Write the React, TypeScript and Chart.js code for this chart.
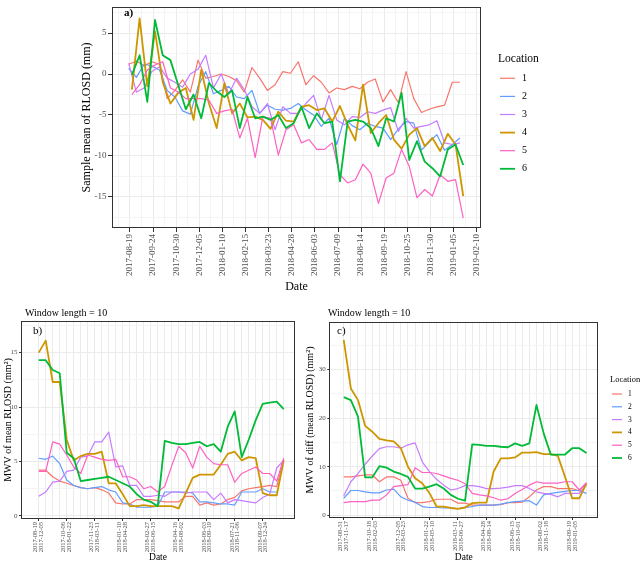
import React, { useEffect, useRef } from 'react';
import { Chart, registerables } from 'chart.js';

Chart.register(...registerables);

const FONT = "'Liberation Serif', 'Times New Roman', serif";
const TICK_COLOR = '#4D4D4D';
const GRID_MAJOR = '#EBEBEB';
const GRID_MINOR = '#F4F4F4';

const LOCATIONS = ['1', '2', '3', '4', '5', '6'];
const COLORS = ['#F8766D', '#619CFF', '#C77CFF', '#CD9600', '#FF61C3', '#00BA38'];
const WIDTHS = [1.2, 1.2, 1.2, 1.8, 1.2, 1.8];

// ---------- panel a : sample mean of RLOSD ----------
// sampling dates of locations 1-3
const aDates123 = ['2017-08-17','2017-08-29','2017-09-10','2017-09-22','2017-10-04','2017-10-16','2017-10-28','2017-11-09','2017-11-21','2017-12-03','2017-12-15','2017-12-27','2018-01-08','2018-01-20','2018-02-01','2018-02-13','2018-02-25','2018-03-09','2018-03-21','2018-04-02','2018-04-14','2018-04-26','2018-05-08','2018-05-20','2018-06-01','2018-06-13','2018-06-25','2018-07-07','2018-07-19','2018-07-31','2018-08-12','2018-08-24','2018-09-05','2018-09-17','2018-09-29','2018-10-11','2018-10-23','2018-11-04','2018-11-16','2018-11-28','2018-12-10','2018-12-22','2019-01-03','2019-01-15'];
// sampling dates of locations 4-6
const aDates456 = ['2017-08-22','2017-09-03','2017-09-15','2017-09-27','2017-10-09','2017-10-21','2017-11-02','2017-11-14','2017-11-26','2017-12-08','2017-12-20','2018-01-01','2018-01-13','2018-01-25','2018-02-06','2018-02-18','2018-03-02','2018-03-14','2018-03-26','2018-04-07','2018-04-19','2018-05-01','2018-05-13','2018-05-25','2018-06-06','2018-06-18','2018-06-30','2018-07-12','2018-07-24','2018-08-05','2018-08-17','2018-08-29','2018-09-10','2018-09-22','2018-10-04','2018-10-16','2018-10-28','2018-11-09','2018-11-21','2018-12-03','2018-12-15','2018-12-27','2019-01-08','2019-01-20'];

const aLoc1 = [1.2, 1.6, 1.0, 1.5, 1.2, -3.0, -2.0, -0.7, -2.2, 1.7, -0.5, -0.3, 0.0, -0.3, -0.8, -2.2, 0.8, -0.5, -2.0, -1.3, 0.3, 0.1, 1.5, -1.3, -0.2, -1.0, -2.3, -1.7, -1.9, -1.5, -1.8, -1.0, -0.6, -3.4, -1.9, -3.5, 0.3, -3.0, -4.7, -4.3, -4.0, -3.8, -1.0, -1.0];
const aLoc2 = [0.7, -0.4, 1.2, 1.0, 0.5, -2.0, -2.8, -4.5, -4.9, -1.5, 0.3, -2.4, -2.0, -1.5, -2.8, -3.0, -2.0, -4.8, -3.8, -4.3, -4.4, -4.2, -3.6, -4.4, -5.0, -6.4, -5.4, -8.6, -5.4, -6.3, -6.8, -6.0, -6.4, -6.6, -8.0, -6.7, -5.8, -6.0, -9.3, -8.3, -7.4, -9.3, -8.6, -7.8];
const aLoc3 = [1.3, -2.2, -1.7, 0.3, 0.9, -0.5, -1.0, -1.6, 0.0, 0.6, 2.3, -1.7, 0.0, -2.4, -0.5, -1.9, -4.0, -4.8, -3.6, -6.8, -4.0, -4.8, -4.8, -3.6, -2.6, -5.6, -2.6, -5.6, -6.2, -5.2, -5.3, -4.6, -4.8, -4.4, -4.1, -7.0, -5.4, -6.6, -6.4, -6.2, -5.7, -8.4, -8.6, -8.4];
const aLoc4 = [-1.9, 6.8, -1.5, 5.2, -1.0, -3.6, -2.3, -1.7, -5.6, 0.5, -3.6, -6.6, -1.1, -4.8, -3.6, -5.3, -5.2, -5.6, -6.7, -4.6, -5.7, -5.8, -4.0, -3.8, -4.4, -4.2, -5.8, -3.9, -6.2, -8.1, -1.3, -7.2, -6.0, -5.0, -8.0, -9.1, -7.4, -6.6, -8.8, -7.8, -9.4, -7.3, -8.6, -14.9];
const aLoc5 = [-2.5, -1.3, 0.5, 1.1, 1.5, -1.7, -2.2, -3.0, -3.0, -3.0, -3.2, -4.8, -4.5, -4.3, -7.8, -5.4, -10.2, -5.2, -5.4, -9.9, -6.8, -6.2, -8.4, -8.0, -9.2, -9.2, -8.4, -12.3, -13.3, -12.9, -11.0, -12.1, -15.8, -12.7, -12.1, -9.2, -11.3, -15.1, -14.1, -14.9, -12.3, -13.1, -12.9, -17.6];
const aLoc6 = [-0.1, 2.3, -3.4, 6.6, 2.3, 1.7, -1.3, -4.3, -2.5, -5.4, -1.1, -2.1, -2.8, -2.0, -6.6, -2.8, -5.4, -5.2, -5.6, -5.0, -6.6, -6.0, -4.0, -6.6, -4.8, -6.0, -5.8, -13.1, -5.8, -5.6, -5.8, -6.6, -8.8, -5.4, -5.8, -2.3, -10.5, -8.2, -10.7, -11.5, -12.5, -9.2, -8.6, -11.1];
const aTickDates = ['2017-08-19','2017-09-24','2017-10-30','2017-12-05','2018-01-10','2018-02-15','2018-03-23','2018-04-28','2018-06-03','2018-07-09','2018-08-14','2018-09-19','2018-10-25','2018-11-30','2019-01-05','2019-02-10'];

// ---------- panel b : MWV of mean RLOSD ----------
const bLoc1 = [4.2, 4.2, 3.6, 3.2, 3.0, 2.8, 2.6, 2.5, 2.6, 2.4, 2.1, 1.2, 1.1, 1.1, 1.5, 1.5, 1.5, 1.4, 1.3, 1.3, 1.3, 1.8, 1.8, 1.0, 1.2, 1.0, 1.1, 1.5, 1.7, 2.3, 2.5, 2.6, 2.7, 2.8, 2.7, 5.2];
const bLoc2 = [5.3, 5.2, 5.5, 4.8, 3.3, 2.8, 2.6, 2.5, 2.6, 2.7, 2.4, 2.2, 1.2, 1.1, 0.8, 0.8, 0.8, 0.9, 2.2, 2.2, 2.2, 2.2, 2.1, 1.3, 1.3, 1.2, 1.1, 1.1, 1.0, 2.2, 2.2, 2.2, 2.5, 2.2, 2.2, null];
const bLoc3 = [1.8, 2.2, 3.1, 3.2, 4.1, 4.2, 5.4, 5.5, 6.8, 6.8, 7.7, 4.5, 4.6, 2.8, 2.8, 1.8, 1.8, 1.9, 1.8, 2.2, 2.2, 2.1, 2.2, 2.2, 2.2, 1.5, 2.1, 1.2, 1.5, 1.4, 1.3, 1.2, 1.7, 2.0, 4.4, 5.1];
const bLoc4 = [15.0, 16.1, 12.3, 12.3, 7.0, 5.1, 5.5, 5.7, 5.7, 5.9, 3.0, 3.0, 2.0, 0.9, 0.9, 1.0, 0.9, 0.9, 0.9, 0.9, 0.7, 2.1, 3.5, 3.8, 3.8, 3.8, 4.7, 5.7, 5.9, 5.1, 5.4, 5.3, 2.1, 1.9, 1.9, 5.1];
const bLoc5 = [4.1, 4.1, 6.8, 6.6, 5.6, 4.5, 3.9, 5.6, 5.4, 5.2, 5.1, 5.2, 3.6, 3.6, 3.3, 2.5, 2.7, 2.2, 2.7, 4.6, 6.4, 5.8, 4.4, 6.4, 5.4, 4.8, 4.7, 4.7, 3.1, 3.9, 4.2, 4.5, 3.9, 3.9, 3.2, 5.3];
const bLoc6 = [14.3, 14.3, 13.4, 13.1, 5.8, 5.3, 3.2, 3.3, 3.4, 3.5, 3.6, 3.3, 3.0, 2.7, 2.0, 1.5, 1.3, 0.9, 6.9, 6.7, 6.6, 6.6, 6.7, 6.8, 6.4, 6.6, 5.9, 8.2, 9.6, 5.4, 7.0, 8.8, 10.3, 10.4, 10.5, 9.8];
const bTickStart = ['2017-08-19','2017-10-06','2017-11-23','2018-01-10','2018-02-27','2018-04-16','2018-06-03','2018-07-21','2018-09-07'];
const bTickEnd = ['2017-12-05','2018-01-22','2018-03-11','2018-04-28','2018-06-15','2018-08-02','2018-09-19','2018-11-06','2018-12-24'];

// ---------- panel c : MWV of diff(mean RLOSD) ----------
const cLoc1 = [7.9, 7.9, 8.1, 8.3, 8.3, 6.9, 7.9, 7.9, 7.2, 3.5, 2.6, 2.6, 2.8, 3.3, 3.3, 3.3, 2.5, 2.5, 2.1, 2.1, 2.1, 2.1, 2.2, 2.6, 2.6, 2.7, 3.8, 5.2, 5.9, 5.9, 5.5, 5.5, 5.5, 5.0, 6.6];
const cLoc2 = [3.5, 5.1, 5.1, 4.8, 4.6, 4.6, 5.2, 5.4, 3.8, 3.1, 2.7, 1.8, 1.6, 1.6, 1.5, 1.5, 1.4, 1.6, 1.8, 2.1, 2.1, 2.1, 2.3, 2.6, 2.8, 2.9, 3.0, 2.1, 4.2, 4.5, 4.7, 4.9, 5.1, 5.1, 4.5];
const cLoc3 = [4.0, 6.9, 8.6, 10.5, 12.2, 13.7, 14.1, 14.1, 13.8, 14.5, 14.9, 11.0, 9.0, 7.4, 6.2, 5.2, 5.5, 6.1, 6.1, 5.9, 5.5, 5.5, 5.6, 5.8, 6.1, 6.1, 5.5, 4.8, 4.5, 4.3, 3.8, 4.5, 4.5, 4.5, 6.2];
const cLoc4 = [36.1, 26.1, 23.7, 18.4, 17.2, 15.7, 15.4, 15.2, 13.8, 10.0, 7.6, 6.6, 4.6, 1.8, 1.8, 1.5, 1.3, 1.6, 2.5, 2.6, 2.6, 9.0, 11.7, 11.7, 11.9, 12.9, 12.9, 13.0, 12.6, 12.6, 12.2, 7.9, 3.5, 3.5, 6.6];
const cLoc5 = [2.6, 2.8, 2.8, 2.8, 3.1, 3.1, 4.2, 5.9, 6.1, 6.3, 9.8, 8.8, 8.8, 8.6, 8.1, 7.6, 7.2, 6.5, 4.5, 4.2, 4.0, 3.6, 3.1, 3.4, 4.5, 5.3, 6.2, 6.9, 6.6, 6.6, 6.6, 6.9, 6.9, 5.2, 6.7];
const cLoc6 = [24.3, 23.7, 20.3, 7.8, 7.8, 10.1, 9.8, 9.0, 8.5, 7.9, 5.5, 5.5, 5.9, 6.4, 5.5, 4.2, 3.4, 3.0, 14.6, 14.5, 14.3, 14.3, 14.1, 14.0, 14.8, 14.3, 14.8, 22.7, 16.9, 12.5, 12.5, 12.5, 13.8, 13.8, 12.8];
const cTickStart = ['2017-08-31','2017-10-18','2017-12-05','2018-01-22','2018-03-11','2018-04-28','2018-06-15','2018-08-02','2018-09-19'];
const cTickEnd = ['2017-11-17','2018-02-03','2018-03-23','2018-05-10','2018-06-27','2018-08-14','2018-10-01','2018-11-18','2019-01-05'];

// ---------- helpers ----------
const BASE = Date.UTC(2017, 7, 19);
const dayOf = (s: string) => {
  const [y, m, d] = s.split('-').map(Number);
  return Math.round((Date.UTC(y, m - 1, d) - BASE) / 86400000);
};

const font = (size: number, extra: any = {}) => ({ family: FONT, size, ...extra });

function makeDecor(cfg: any) {
  return {
    id: 'decor',
    afterDraw(chart: any) {
      const { ctx, chartArea: a } = chart;
      ctx.save();
      ctx.strokeStyle = '#333333';
      ctx.lineWidth = 1;
      const l = Math.round(a.left), t = Math.round(a.top), r = Math.round(a.right), b = Math.round(a.bottom);
      ctx.strokeRect(l + 0.5, t + 0.5, r - l - 1, b - t - 1);
      ctx.textAlign = 'left';
      ctx.textBaseline = 'middle';
      for (const tx of cfg.texts || []) {
        ctx.font = tx.font;
        ctx.fillStyle = '#000';
        ctx.fillText(tx.text, tx.x, tx.y);
      }
      const L = cfg.legend;
      if (L) {
        ctx.font = L.titleFont;
        ctx.fillStyle = '#000';
        ctx.fillText(L.title, L.x, L.y);
        chart.data.datasets.forEach((ds: any, i: number) => {
          const y = L.y0 + i * L.dy;
          ctx.strokeStyle = ds.borderColor;
          ctx.lineWidth = ds.borderWidth;
          ctx.beginPath();
          ctx.moveTo(L.lx0, y);
          ctx.lineTo(L.lx1, y);
          ctx.stroke();
          ctx.font = L.itemFont;
          ctx.fillStyle = '#000';
          ctx.fillText(ds.label, L.tx, y);
        });
      }
      ctx.restore();
    },
  };
}

const baseOptions = {
  animation: false as const,
  responsive: false,
  devicePixelRatio: 1,
  events: [] as any[],
  elements: { point: { radius: 0 }, line: { tension: 0, borderJoinStyle: 'round' as const } },
};

function yScale(min: number, max: number, step: number, major: number, size: number, title: string, titleSize: number, titlePad: number, width: number, tickLen: number) {
  const isMajor = (v: number) => Math.abs(v / major - Math.round(v / major)) < 1e-6;
  return {
    type: 'linear' as const,
    min, max,
    ticks: {
      stepSize: step, includeBounds: false, autoSkip: false,
      font: font(size), color: TICK_COLOR, padding: 1.5,
      callback: (v: any) => (isMajor(v) ? String(v) : ''),
    },
    grid: {
      color: (c: any) => (c.tick && isMajor(c.tick.value) ? GRID_MAJOR : GRID_MINOR),
      tickColor: (c: any) => (c.tick && isMajor(c.tick.value) ? '#333333' : 'rgba(0,0,0,0)'),
      tickLength: tickLen,
    },
    border: { display: false },
    title: { display: true, text: title, font: font(titleSize), color: '#000', padding: { top: titlePad, bottom: 0 } },
    afterFit: (s: any) => { s.width = width; },
  };
}

function buildA() {
  const series = [aLoc1, aLoc2, aLoc3, aLoc4, aLoc5, aLoc6];
  const majors = aTickDates.map(dayOf);
  const labelMap = new Map<number, string>();
  aTickDates.forEach((d, i) => labelMap.set(majors[i], d));
  const half = (majors[1] - majors[0]) / 2;
  const tickVals: number[] = [majors[0] - half];
  majors.forEach((m, i) => {
    tickVals.push(m);
    if (i < majors.length - 1) tickVals.push((m + majors[i + 1]) / 2);
  });
  const xMin = -28, xMax = 546.7;
  return {
    type: 'line' as const,
    data: {
      datasets: series.map((vals, i) => ({
        label: LOCATIONS[i],
        data: vals.map((v, j) => ({ x: dayOf((i < 3 ? aDates123 : aDates456)[j]), y: v })),
        borderColor: COLORS[i], backgroundColor: COLORS[i], borderWidth: WIDTHS[i],
        fill: false, order: 6 - i,
      })),
    },
    options: {
      ...baseOptions,
      layout: { padding: { left: 0, top: 0, right: 159, bottom: 0 } },
      plugins: { legend: { display: false }, tooltip: { enabled: false } },
      scales: {
        x: {
          type: 'linear' as const, min: xMin, max: xMax,
          afterBuildTicks: (s: any) => { s.ticks = tickVals.filter((v) => v >= xMin && v <= xMax).map((v) => ({ value: v })); },
          ticks: {
            autoSkip: false, maxRotation: 90, minRotation: 90, padding: 2,
            font: font(9), color: TICK_COLOR,
            callback: (v: any) => labelMap.get(v) ?? '',
          },
          grid: {
            color: (c: any) => (c.tick && labelMap.has(c.tick.value) ? GRID_MAJOR : GRID_MINOR),
            tickColor: (c: any) => (c.tick && labelMap.has(c.tick.value) ? '#333333' : 'rgba(0,0,0,0)'),
            tickLength: 4,
          },
          border: { display: false },
          title: { display: true, text: 'Date', font: font(12), color: '#000', padding: { top: 0, bottom: 6 } },
          afterFit: (s: any) => { s.height = 72; },
        },
        y: yScale(-18.8, 8.2, 2.5, 5, 9, 'Sample mean of RLOSD (mm)', 12, 79.5, 112, 4),
      },
    },
    plugins: [makeDecor({
      texts: [{ text: 'a)', x: 124, y: 13, font: `bold 11px ${FONT}` }],
      legend: {
        title: 'Location', titleFont: `11.5px ${FONT}`, x: 498, y: 59,
        y0: 78.3, dy: 18.1, lx0: 500, lx1: 515, tx: 522, itemFont: `10px ${FONT}`,
      },
    })],
  };
}

function buildWindow(series: (number | null)[][], starts: string[], ends: string[], opts: any) {
  const n = series[0].length;
  const lh = 6.5 * 0.9;
  return {
    type: 'line' as const,
    data: {
      datasets: series.map((vals, i) => ({
        label: LOCATIONS[i],
        data: vals.map((v, j) => ({ x: j, y: v })),
        borderColor: COLORS[i], backgroundColor: COLORS[i], borderWidth: WIDTHS[i],
        fill: false, order: 6 - i,
      })),
    },
    options: {
      ...baseOptions,
      layout: { padding: opts.padding },
      plugins: { legend: { display: false }, tooltip: { enabled: false } },
      scales: {
        x: {
          type: 'linear' as const, min: opts.xMin, max: opts.xMax,
          afterBuildTicks: (s: any) => { s.ticks = series[0].map((_, j) => ({ value: j })); },
          ticks: {
            autoSkip: false, maxRotation: 90, minRotation: 90, padding: 1,
            labelOffset: -lh / 2,
            font: font(6.5, { lineHeight: 0.9 }), color: TICK_COLOR,
            callback: (v: any) => (v % 4 === 0 && v / 4 < starts.length ? [starts[v / 4], ends[v / 4]] : ''),
          },
          grid: {
            color: GRID_MAJOR,
            tickColor: (c: any) => (c.tick && c.tick.value % 4 === 0 ? '#333333' : 'rgba(0,0,0,0)'),
            tickLength: 2,
          },
          border: { display: false },
          title: { display: true, text: 'Date', font: font(9.5), color: '#000', padding: { top: 0, bottom: 6.5 } },
          afterFit: (s: any) => { s.height = opts.xHeight; },
        },
        y: yScale(opts.yMin, opts.yMax, opts.yStep, opts.yMajor, 7, opts.yTitle, 10, opts.yTitlePad, opts.yWidth, 2),
      },
    },
    plugins: [makeDecor({ texts: opts.texts, legend: opts.legend })],
  };
}

function buildB() {
  return buildWindow([bLoc1, bLoc2, bLoc3, bLoc4, bLoc5, bLoc6], bTickStart, bTickEnd, {
    padding: { left: 0, top: 21, right: 25, bottom: 0 },
    xMin: -2.53, xMax: 36.61, xHeight: 51,
    yMin: -0.28, yMax: 17.9, yStep: 2.5, yMajor: 5,
    yTitle: 'MWV of mean RLOSD (mm²)', yTitlePad: 2.5, yWidth: 21,
    texts: [
      { text: 'Window length = 10', x: 25, y: 13, font: `10px ${FONT}` },
      { text: 'b)', x: 33, y: 31, font: `11px ${FONT}` },
    ],
  });
}

function buildC() {
  return buildWindow([cLoc1, cLoc2, cLoc3, cLoc4, cLoc5, cLoc6], cTickStart, cTickEnd, {
    padding: { left: 0, top: 22, right: 41.7, bottom: 0 },
    xMin: -2.02, xMax: 35.66, xHeight: 52,
    yMin: -0.56, yMax: 39.77, yStep: 5, yMajor: 10,
    yTitle: 'MWV of diff (mean RLOSD) (mm²)', yTitlePad: 4, yWidth: 29.3,
    texts: [
      { text: 'Window length = 10', x: 28, y: 13, font: `10px ${FONT}` },
      { text: 'c)', x: 37, y: 31, font: `11px ${FONT}` },
    ],
    legend: {
      title: 'Location', titleFont: `8.5px ${FONT}`, x: 310, y: 80,
      y0: 94, dy: 12.8, lx0: 312, lx1: 322, tx: 328, itemFont: `7.5px ${FONT}`,
    },
  });
}

function ChartCanvas(props: { left: number; top: number; width: number; height: number; build: () => any }) {
  const ref = useRef<HTMLCanvasElement | null>(null);
  useEffect(() => {
    if (!ref.current) return;
    const chart = new Chart(ref.current, props.build());
    return () => chart.destroy();
  }, []);
  return (
    <canvas
      ref={ref}
      width={props.width}
      height={props.height}
      style={{ position: 'absolute', left: props.left, top: props.top, width: props.width, height: props.height }}
    />
  );
}

export default function App() {
  return (
    <div style={{ position: 'absolute', left: 0, top: 0, width: 640, height: 561, overflow: 'hidden', background: '#ffffff' }}>
      <ChartCanvas left={0} top={0} width={640} height={300} build={buildA} />
      <ChartCanvas left={0} top={300} width={320} height={270} build={buildB} />
      <ChartCanvas left={300} top={300} width={340} height={270} build={buildC} />
    </div>
  );
}
